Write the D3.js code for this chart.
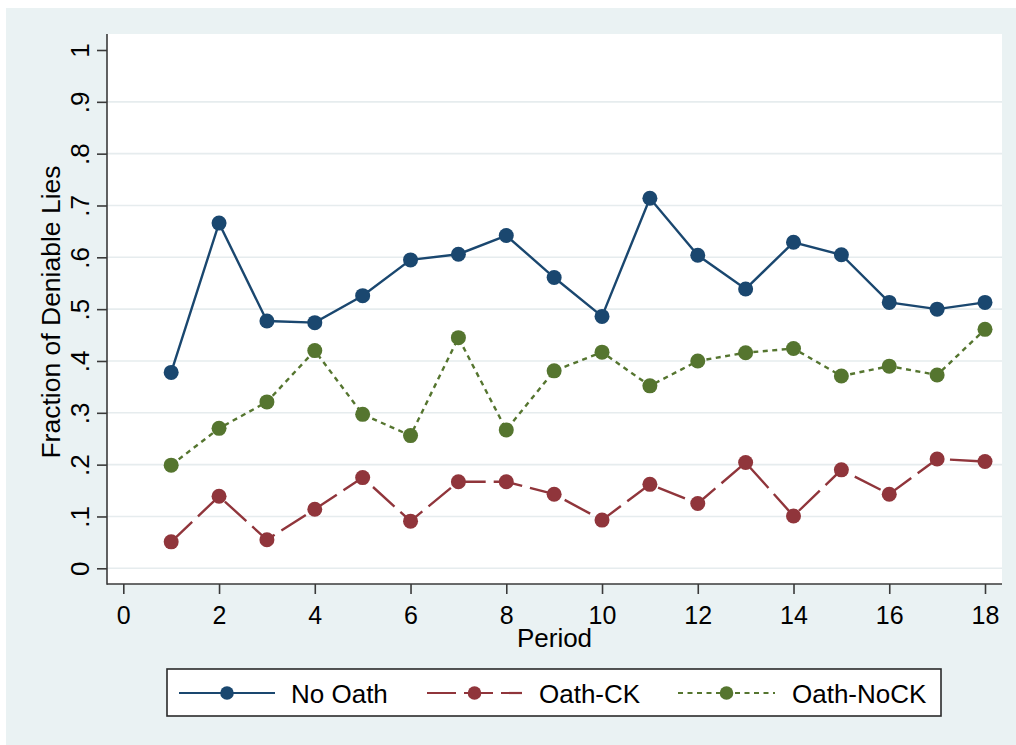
<!DOCTYPE html>
<html>
<head>
<meta charset="utf-8">
<script src="https://cdn.jsdelivr.net/npm/d3@7"></script>
<style>
  html, body { margin: 0; padding: 0; background: #ffffff; }
  svg { display: block; }
  text { font-family: "Liberation Sans", Arial, sans-serif; fill: #000; }
</style>
</head>
<body>
<svg id="chart" width="1016" height="745"></svg>
<script>
// ---- data ----
const periods = [1,2,3,4,5,6,7,8,9,10,11,12,13,14,15,16,17,18];
const noOath   = [0.378,0.666,0.477,0.474,0.526,0.595,0.606,0.642,0.561,0.486,0.714,0.604,0.539,0.629,0.605,0.513,0.500,0.513];
const oathCK   = [0.051,0.139,0.055,0.114,0.175,0.091,0.167,0.167,0.143,0.093,0.162,0.125,0.204,0.101,0.190,0.143,0.211,0.206];
const oathNoCK = [0.199,0.270,0.321,0.420,0.297,0.256,0.445,0.267,0.381,0.417,0.352,0.400,0.416,0.424,0.371,0.390,0.373,0.461];
const seriesNames = ["No Oath","Oath-CK","Oath-NoCK"];
const xTicks = [0,2,4,6,8,10,12,14,16,18];
const yTicks = [0,0.1,0.2,0.3,0.4,0.5,0.6,0.7,0.8,0.9,1];
const yTickLabels = ["0",".1",".2",".3",".4",".5",".6",".7",".8",".9","1"];
const xTitle = "Period";
const yTitle = "Fraction of Deniable Lies";

// ---- layout ----
const svg = d3.select("#chart");
const plot = {left: 107, right: 1002, top: 34, bottom: 584};
const x = d3.scaleLinear().domain([0,18]).range([123.3, 985]);
const y = d3.scaleLinear().domain([0,1]).range([568.3, 50]);

const colors = ["#1a476f", "#90353b", "#55752f"];
const dashes = [null, "29,8", "5,4.5"];
const series = [noOath, oathCK, oathNoCK];

// background
svg.append("rect").attr("x",6).attr("y",8).attr("width",1010).attr("height",737).attr("fill","#eaf2f3");
svg.append("rect").attr("x",plot.left).attr("y",plot.top)
  .attr("width",plot.right-plot.left).attr("height",plot.bottom-plot.top).attr("fill","#ffffff");

// gridlines
svg.append("g").selectAll("line").data(yTicks.filter(v => v < 1)).join("line")
  .attr("x1",plot.left).attr("x2",plot.right)
  .attr("y1",d=>y(d)).attr("y2",d=>y(d))
  .attr("stroke","#e6ecee").attr("stroke-width",1.6);

// axes lines
svg.append("line").attr("x1",plot.left).attr("x2",plot.left).attr("y1",plot.top).attr("y2",plot.bottom+0.8)
  .attr("stroke","#3a3a3a").attr("stroke-width",1.6);
svg.append("line").attr("x1",plot.left).attr("x2",plot.right).attr("y1",plot.bottom).attr("y2",plot.bottom)
  .attr("stroke","#3a3a3a").attr("stroke-width",1.6);

// y axis
const yAxis = d3.axisLeft(y).tickValues(yTicks).tickSize(10).tickFormat((d,i)=>yTickLabels[i]);
const gy = svg.append("g").attr("transform",`translate(${plot.left},0)`).call(yAxis);
gy.select(".domain").remove();
gy.selectAll(".tick line").attr("stroke","#3a3a3a").attr("stroke-width",1.6);
gy.selectAll(".tick text")
  .attr("transform","rotate(-90)")
  .attr("x",0).attr("y",-18).attr("dy",0)
  .attr("text-anchor","middle")
  .style("font-size","26px").style("font-family","Liberation Sans, Arial, sans-serif").attr("fill","#000");

// x axis
const xAxis = d3.axisBottom(x).tickValues(xTicks).tickSize(10).tickFormat(d3.format("d"));
const gx = svg.append("g").attr("transform",`translate(0,${plot.bottom})`).call(xAxis);
gx.select(".domain").remove();
gx.selectAll(".tick line").attr("stroke","#3a3a3a").attr("stroke-width",1.6);
gx.selectAll(".tick text")
  .attr("y",39.5).attr("dy",0)
  .style("font-size","25px").style("font-family","Liberation Sans, Arial, sans-serif").attr("fill","#000");

// titles
svg.append("text").attr("x",(plot.left+plot.right)/2).attr("y",647)
  .attr("text-anchor","middle").style("font-size","26px").text(xTitle);
svg.append("text").attr("transform",`translate(60,${312}) rotate(-90)`)
  .attr("text-anchor","middle").style("font-size","26.5px").text(yTitle);

// lines and markers
const line = d3.line().x((d,i)=>x(periods[i])).y(d=>y(d));
series.forEach((vals, k) => {
  svg.append("path").datum(vals).attr("d", line)
    .attr("fill","none").attr("stroke",colors[k]).attr("stroke-width",2.4)
    .attr("stroke-dasharray", dashes[k]);
});
series.forEach((vals, k) => {
  svg.append("g").selectAll("circle").data(vals).join("circle")
    .attr("cx",(d,i)=>x(periods[i])).attr("cy",d=>y(d)).attr("r",7.5)
    .attr("fill",colors[k]);
});

// legend
const lg = {x:167, y:669, w:774, h:47};
svg.append("rect").attr("x",lg.x).attr("y",lg.y).attr("width",lg.w).attr("height",lg.h)
  .attr("fill","#ffffff").attr("stroke","#2a2a2a").attr("stroke-width",1.6);
const legendItems = [
  {x1:179, x2:275, tx:291},
  {x1:427, x2:522, tx:539},
  {x1:678, x2:775, tx:792}
];
const ly = 693;
legendItems.forEach((it,k) => {
  svg.append("line").attr("x1",it.x1).attr("x2",it.x2).attr("y1",ly).attr("y2",ly)
    .attr("stroke",colors[k]).attr("stroke-width",2.2).attr("stroke-dasharray",dashes[k]);
  svg.append("circle").attr("cx",(it.x1+it.x2)/2).attr("cy",ly).attr("r",6.8).attr("fill",colors[k]);
  svg.append("text").attr("x",it.tx).attr("y",702.5).style("font-size","26px").text(seriesNames[k]);
});
</script>
</body>
</html>
